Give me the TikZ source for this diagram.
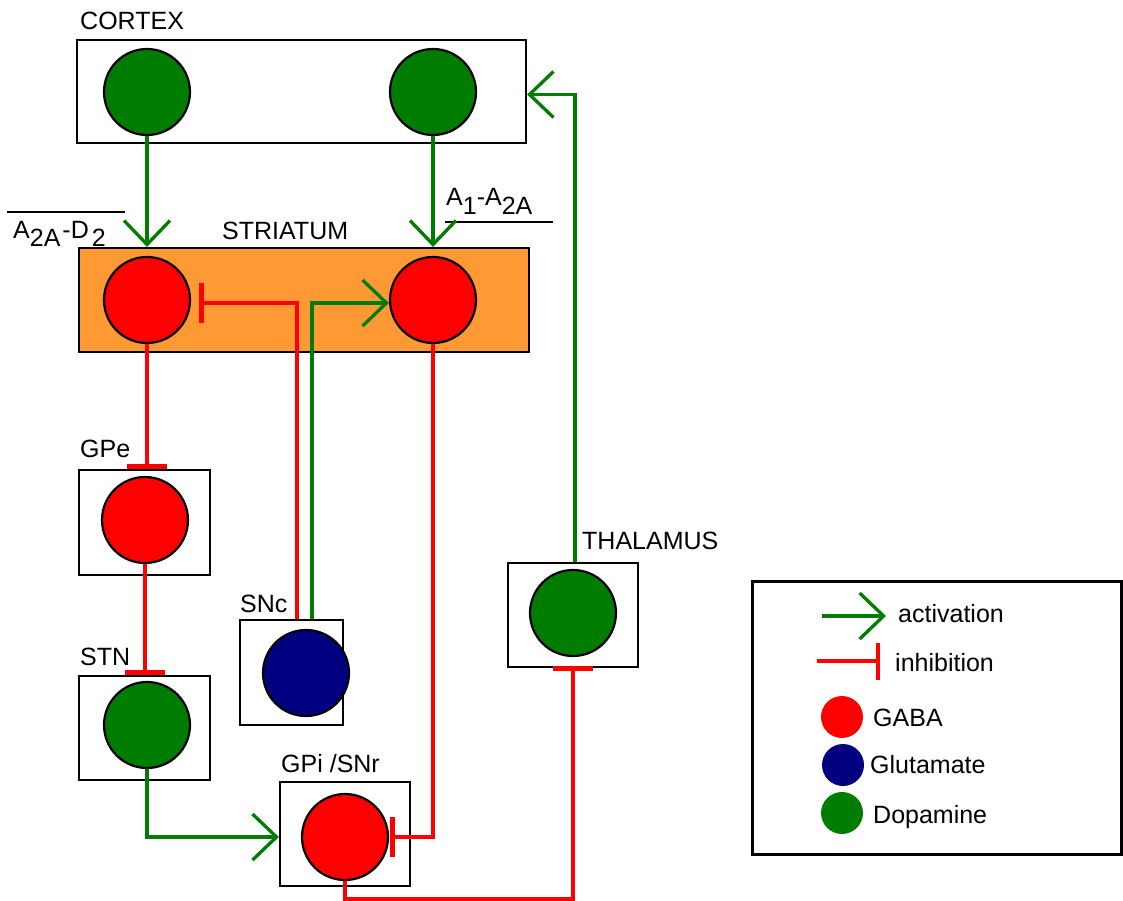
\documentclass[tikz,border=0pt]{standalone}
\usepackage{fontspec}
\setmainfont{Liberation Sans}
\usetikzlibrary{arrows.meta}
\definecolor{dgreen}{RGB}{0,125,0}
\definecolor{navy}{RGB}{0,0,128}
\definecolor{striorange}{RGB}{255,153,51}
\begin{document}
\begin{tikzpicture}[x=1pt,y=-1pt,
  lbl/.style={font=\fontsize{25}{29}\selectfont, inner sep=0pt, anchor=base west},
  cell/.style={circle, draw=black, line width=2.2pt, minimum size=86pt, inner sep=0pt},
  region/.style={draw=black, line width=2.2pt, inner sep=0pt},
  dot/.style={circle, minimum size=42pt, inner sep=0pt},
  act/.style={draw=dgreen, line width=3.3pt, -{Straight Barb[length=24pt,width=46pt]}},
  inh/.style={draw=red, line width=3.3pt, -{Bar[width=40pt,line width=4.5pt]}}]
\useasboundingbox (0,0) rectangle (1123,901);

% region boxes
\node[region, minimum width=449pt, minimum height=103pt] (cortexbox) at (301.5,91.5) {};
\node[region, fill=striorange, minimum width=450pt, minimum height=104pt] (strbox) at (304,300) {};
\node[region, minimum width=131pt, minimum height=105pt] (gpebox) at (144.5,522.5) {};
\node[region, minimum width=131pt, minimum height=104pt] (stnbox) at (144.5,728) {};
\node[region, minimum width=103pt, minimum height=105pt] (sncbox) at (291.5,672.5) {};
\node[region, minimum width=130pt, minimum height=104pt] (gpibox) at (345,834) {};
\node[region, minimum width=130pt, minimum height=104pt] (thalbox) at (573,615) {};
\node[region, minimum width=369pt, minimum height=273pt] (legbox) at (937,718) {};

% cells
\node[cell, fill=dgreen] (cx1) at (147,92) {};
\node[cell, fill=dgreen] (cx2) at (433,92) {};
\node[cell, fill=red] (s1) at (147,300) {};
\node[cell, fill=red] (s2) at (433,300) {};
\node[cell, fill=red] (gpe) at (145,520) {};
\node[cell, fill=dgreen] (stn) at (147,725) {};
\node[cell, fill=navy] (snc) at (306,673) {};
\node[cell, fill=red] (gpi) at (345,837) {};
\node[cell, fill=dgreen] (thal) at (573,613) {};

% labels
\node[lbl] (lcortex) at (80,30) {CORTEX};
\node[lbl] (lstr) at (222,240) {STRIATUM};
\node[lbl] (lgpe) at (80,457) {GPe};
\node[lbl] (lstn) at (80,665) {STN};
\node[lbl] (lsnc) at (240,612) {SNc};
\node[lbl] (lgpi) at (281,772) {GPi /SNr};
\node[lbl] (lthal) at (582,549) {THALAMUS};
\node[lbl] (la2ad2) at (13,238) {A\raisebox{-9pt}{2A}\hspace{2pt}-D\hspace{3pt}\raisebox{-9pt}{2}};
\node[lbl] (la1a2a) at (446,206) {A\raisebox{-9pt}{1}-A\raisebox{-9pt}{2A}};
\draw[line width=2pt] (7,212) -- (125,212);
\draw[line width=2pt] (445,222) -- (553,222);

% connectors
\draw[act] (cx1.south) -- (cx1.south |- strbox.north);
\draw[act] (cx2.south) -- (cx2.south |- strbox.north);
\coordinate (sncR) at ([xshift=5.5pt]sncbox.north);
\coordinate (sncG) at ([xshift=20.5pt]sncbox.north);
\draw[inh] (sncR) |- ([xshift=8pt,yshift=-3pt]s1.east);
\draw[act] (sncG) |- ([yshift=-3pt]s2.west);
\draw[inh] (s1.south) -- (s1.south |- gpebox.north);
\draw[inh] (gpe.south) -- (gpe.south |- stnbox.north);
\draw[act] (stn.south) |- (gpi.west -| gpibox.west);
\draw[inh] (s2.south) |- ([xshift=1pt]gpi.east);
\coordinate (loop) at ([yshift=-18pt]gpi.south);
\draw[inh] (gpi.south) -- (loop) -| ([yshift=2pt]thal |- thalbox.south);
\draw[act] ([xshift=2pt]thalbox.north) |- ([yshift=-3pt]cortexbox.east);

% legend
\coordinate (la1) at (822,616);
\coordinate (la2) at (886,616);
\draw[act] (la1) -- (la2);
\node[lbl] (tact) at (898,622) {activation};
\coordinate (li1) at (817,661);
\coordinate (li2) at (880,661);
\draw[inh, -{Bar[width=37pt,line width=4.5pt]}] (li1) -- (li2);
\node[lbl] (tinh) at (895,671) {inhibition};
\node[dot, fill=red] (dgaba) at (842,717) {};
\node[lbl] (tgaba) at (873,726) {GABA};
\node[dot, fill=navy] (dglu) at (843,765) {};
\node[lbl] (tglu) at (870,773) {Glutamate};
\node[dot, fill=dgreen] (ddop) at (842,813) {};
\node[lbl] (tdop) at (873,823) {Dopamine};
\end{tikzpicture}
\end{document}
